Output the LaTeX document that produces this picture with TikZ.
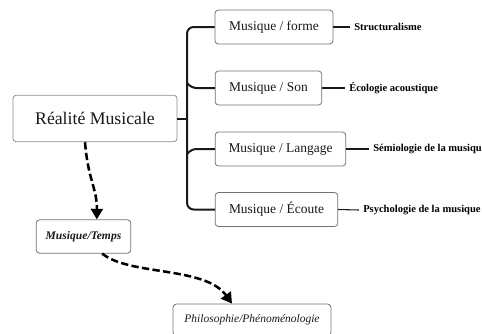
\documentclass[tikz,border=0pt]{standalone}
\usepackage{fontspec}
\setmainfont{Liberation Serif}
\usetikzlibrary{arrows.meta}
\begin{document}
\begin{tikzpicture}[
        x=0.75pt, y=-0.75pt,
        box/.style={rectangle, draw=black!55, line width=0.6pt, rounded corners=2.5pt, fill=white, minimum height=25.5pt, inner sep=2pt, text=black!90},
        sub/.style={box, font=\fontsize{10.1}{12}\selectfont},
        leaf/.style={anchor=west, inner sep=3pt, font=\fontsize{7.9}{9}\selectfont\bfseries},
        branch/.style={line width=1.5pt, black!90},
        twig/.style={line width=0.8pt, black!90},
        flow/.style={line width=1.9pt, dash pattern=on 5.5pt off 2.5pt, -{Triangle[width=9pt,length=8pt]}}
    ]
        \useasboundingbox (0,0) rectangle (482,333);

        \node[box, draw=black!45, minimum width=123pt, minimum height=35pt, font=\fontsize{13.3}{16}\selectfont] (real) at (95,118.5) {Réalité Musicale};

        \node[sub, minimum width=88.5pt] (forme) at (274,27) {Musique / forme};
        \node[sub, minimum width=80pt] (son) at (268.5,88) {Musique / Son};
        \node[sub, minimum width=98pt] (langage) at (280.5,149) {Musique / Langage};
        \node[sub, minimum width=92pt] (ecoute) at (276.5,209.5) {Musique / Écoute};

        \node[leaf] (struct) at (350,27) {Structuralisme};
        \node[leaf] (eco) at (345,88) {Écologie acoustique};
        \node[leaf] (semio) at (369,149) {Sémiologie de la musique};
        \node[leaf] (psycho) at (359,210) {Psychologie de la musique};

        \node[box, minimum width=71pt, minimum height=25pt, font=\fontsize{8.7}{10}\selectfont\bfseries\itshape] (temps) at (83.5,236.5) {Musique/Temps};
        \node[box, minimum width=118.5pt, minimum height=24pt, font=\fontsize{8.6}{10}\selectfont\itshape] (philo) at (252,320) {Philosophie/Phénoménologie};

        % tree
        \coordinate (trunk) at (187,118.5);
        \draw[branch] (real.east) -- (trunk);
        \draw[branch, rounded corners=5pt] (forme.west) -| (trunk) |- (ecoute.west);
        \draw[branch, rounded corners=4pt] (son.west) -- ([xshift=3pt]son.west -| trunk) -- ([yshift=4pt]son.west -| trunk);
        \draw[branch, rounded corners=4pt] (langage.west) -- ([xshift=3pt]langage.west -| trunk) -- ([yshift=-4pt]langage.west -| trunk);

        \draw[twig] (forme.east) -- (struct.west);
        \draw[twig] (son.east) -- (eco.west);
        \draw[twig] (langage.east) -- (semio.west);
        \draw[twig] (ecoute.east) -- (psycho.west);

        % time line
        \draw[flow] ([xshift=-7.5pt]real.south) .. controls (88,180) and (97,188) .. ([xshift=10pt]temps.north);
        \draw[flow] ([xshift=14pt]temps.south) .. controls (130,276) and (205,266) .. ([xshift=-15pt]philo.north);
    \end{tikzpicture}
\end{document}
